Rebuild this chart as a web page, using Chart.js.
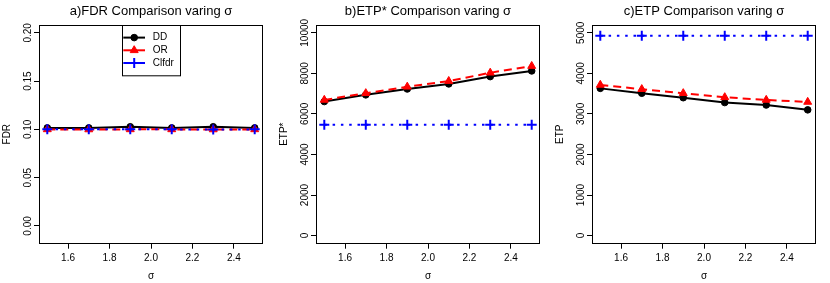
<!DOCTYPE html>
<html><head><meta charset="utf-8">
<script src="https://cdn.jsdelivr.net/npm/chart.js@4.4.1/dist/chart.umd.min.js"></script>
<style>
html,body{margin:0;padding:0;background:#fff;}
#wrap{position:relative;width:830px;height:283px;overflow:hidden;}
.p{position:absolute;top:0;height:283px;}
</style></head><body>
<div id="wrap">
<div class="p" style="left:0;width:277px"><canvas id="ca"></canvas></div>
<div class="p" style="left:277px;width:276px"><canvas id="cb"></canvas></div>
<div class="p" style="left:553px;width:277px"><canvas id="cc"></canvas></div>
</div>
<script>
// ---- data ----
const sigma = [1.5, 1.7, 1.9, 2.1, 2.3, 2.5];
const xTicks = [1.6, 1.8, 2.0, 2.2, 2.4];
const seriesNames = ['DD', 'OR', 'Clfdr'];

const fdrDD    = [0.1015, 0.1015, 0.1027, 0.1015, 0.1027, 0.1015];
const fdrOR    = [0.1000, 0.0999, 0.1000, 0.1000, 0.0999, 0.1000];
const fdrClfdr = [0.1000, 0.1000, 0.1000, 0.1000, 0.0998, 0.1000];
const fdrTicks = [0.00, 0.05, 0.10, 0.15, 0.20];

const etpStarDD    = [6610, 6940, 7230, 7480, 7840, 8120];
const etpStarOR    = [6690, 7020, 7340, 7620, 8030, 8360];
const etpStarClfdr = [5470, 5470, 5470, 5470, 5470, 5470];
const etpStarTicks = [0, 2000, 4000, 6000, 8000, 10000];

const etpDD    = [3630, 3510, 3400, 3280, 3220, 3100];
const etpOR    = [3715, 3610, 3510, 3410, 3345, 3295];
const etpClfdr = [4930, 4930, 4930, 4930, 4930, 4930];
const etpTicks = [0, 1000, 2000, 3000, 4000, 5000];

const titles = ['a)FDR Comparison varing \u03c3', 'b)ETP* Comparison varing \u03c3', 'c)ETP Comparison varing \u03c3'];
const yTitles = ['FDR', 'ETP*', 'ETP'];
const xTitle = '\u03c3';

// ---- styling ----
Chart.defaults.font.family = "'Liberation Sans', Arial, Helvetica, sans-serif";
Chart.defaults.color = '#000';
const FONT = "'Liberation Sans', Arial, Helvetica, sans-serif";

const styles = [
  {borderColor:'#000000', backgroundColor:'#000000', pointStyle:'circle', pointRadius:3.3, pointBorderWidth:1, borderDash:[], order:3},
  {borderColor:'#ff0000', backgroundColor:'#ff0000', pointStyle:'triangle', pointRadius:4.6, pointBorderWidth:1, borderDash:[8,5], order:2},
  {borderColor:'#0000ff', backgroundColor:'#0000ff', pointStyle:'cross', pointRadius:5, pointBorderWidth:2, borderDash:[2.5,5.8], order:1}
];

function mkDatasets(arrs){
  return arrs.map((a,i)=>({
    label: seriesNames[i],
    data: sigma.map((x,j)=>({x:x, y:a[j]})),
    borderColor: styles[i].borderColor,
    backgroundColor: styles[i].backgroundColor,
    pointBackgroundColor: styles[i].backgroundColor,
    pointBorderColor: styles[i].borderColor,
    pointStyle: styles[i].pointStyle,
    pointRadius: styles[i].pointRadius,
    pointBorderWidth: styles[i].pointBorderWidth,
    borderWidth: 2,
    borderDash: styles[i].borderDash,
    order: styles[i].order,
    tension: 0
  }));
}

const boxPlugin = {
  id:'rbox',
  afterDraw(chart){
    const {ctx, chartArea:ca} = chart;
    ctx.save();
    ctx.strokeStyle = '#000'; ctx.lineWidth = 1;
    ctx.strokeRect(Math.round(ca.left)+0.5, Math.round(ca.top)+0.5, Math.round(ca.right-ca.left)-1, Math.round(ca.bottom-ca.top)-1);
    ctx.restore();
  }
};

const legendPlugin = {
  id:'rlegend',
  afterDraw(chart){
    const {ctx, chartArea:ca} = chart;
    const w = 58, h = 50.3;
    const x0 = Math.round((ca.left+ca.right)/2 - w/2), y0 = Math.round(ca.top);
    ctx.save();
    ctx.fillStyle = '#fff';
    ctx.fillRect(x0+0.5, y0+0.5, w, h);
    ctx.strokeStyle = '#000'; ctx.lineWidth = 1;
    ctx.strokeRect(x0+0.5, y0+0.5, w, h);
    chart.data.datasets.forEach((ds,i)=>{
      const y = y0 + 12.6 + i*12.7;
      ctx.strokeStyle = ds.borderColor; ctx.lineWidth = 2; ctx.setLineDash([]);
      ctx.beginPath(); ctx.moveTo(x0+1.3, y); ctx.lineTo(x0+23, y); ctx.stroke();
      ctx.fillStyle = ds.pointBackgroundColor; ctx.strokeStyle = ds.pointBorderColor;
      ctx.lineWidth = ds.pointBorderWidth;
      Chart.helpers.drawPoint(ctx, {pointStyle: ds.pointStyle, radius: ds.pointRadius, rotation:0, borderWidth: ds.pointBorderWidth}, x0+12.2, y);
      ctx.fillStyle = '#000';
      ctx.font = '10px ' + FONT;
      ctx.textAlign = 'left'; ctx.textBaseline = 'middle';
      ctx.fillText(ds.label, x0+30.7, y);
    });
    ctx.restore();
  }
};

function mkChart(id, idx, arrs, yTicks, ymin, ymax, fmt, tickPad, padRight, withLegend){
  return new Chart(document.getElementById(id), {
    type:'line',
    data:{datasets: mkDatasets(arrs)},
    options:{
      responsive:true, maintainAspectRatio:false, animation:false,
      layout:{padding:{left:0, right:padRight, top:0, bottom:0}},
      plugins:{
        legend:{display:false}, tooltip:{enabled:false},
        title:{display:true, text:titles[idx], fullSize:false, color:'#000',
               font:{size:13, weight:'normal', lineHeight:1.2}, padding:{top:3.9, bottom:5.2}}
      },
      scales:{
        x:{type:'linear', min:1.46, max:2.54,
           afterBuildTicks: s => { s.ticks = xTicks.map(v=>({value:v})); },
           afterFit: s => { s.height = 39.3; },
           grid:{display:true, drawOnChartArea:false, drawTicks:true, tickLength:5, color:'#000', tickColor:'#000', lineWidth:1},
           border:{display:false},
           ticks:{callback: v => Number(v).toFixed(1), font:{size:10}, color:'#000', padding:4, maxRotation:0, autoSkip:false},
           title:{display:true, text:xTitle, font:{size:10}, color:'#000', padding:{top:0,bottom:1}}
        },
        y:{type:'linear', min:ymin, max:ymax,
           afterBuildTicks: s => { s.ticks = yTicks.map(v=>({value:v})); },
           afterFit: s => { s.width = 39; },
           grid:{display:true, drawOnChartArea:false, drawTicks:true, tickLength:5, color:'#000', tickColor:'#000', lineWidth:1},
           border:{display:false},
           ticks:{callback: fmt, font:{size:10}, color:'#000', minRotation:90, maxRotation:90, crossAlign:'center', padding:tickPad, autoSkip:false},
           title:{display:true, text:yTitles[idx], font:{size:10}, color:'#000', padding:{top:1.5,bottom:0}}
        }
      }
    },
    plugins: withLegend ? [boxPlugin, legendPlugin] : [boxPlugin]
  });
}

mkChart('ca', 0, [fdrDD, fdrOR, fdrClfdr], fdrTicks, -0.0184, 0.2084, v => Number(v).toFixed(2), -3.6, 14, true);
mkChart('cb', 1, [etpStarDD, etpStarOR, etpStarClfdr], etpStarTicks, -400, 10400, v => String(v), -7.8, 13, false);
mkChart('cc', 2, [etpDD, etpOR, etpClfdr], etpTicks, -200, 5200, v => String(v), -5.0, 14, false);
</script>
</body></html>
